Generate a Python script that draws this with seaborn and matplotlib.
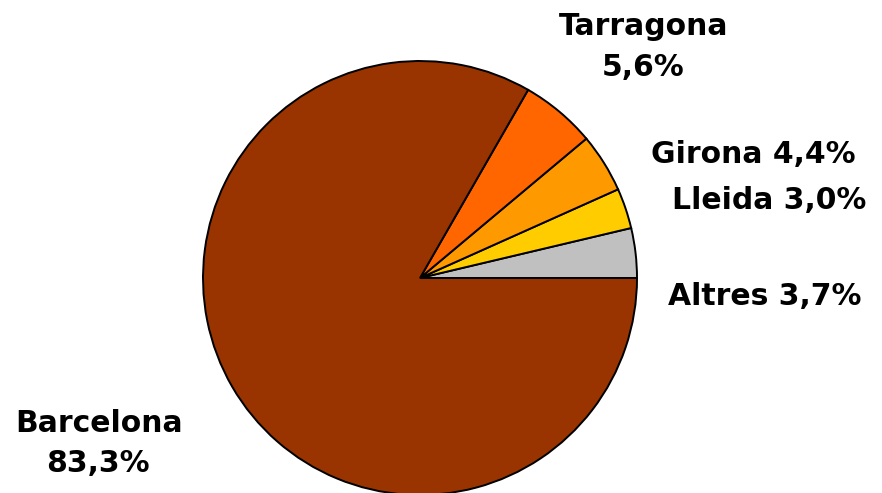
import matplotlib
matplotlib.use("Agg")
import matplotlib.pyplot as plt
import matplotlib.transforms as mtransforms
import seaborn as sns

# Share by province (%), drawn counter-clockwise from 3 o'clock
provinces = ['Altres', 'Lleida', 'Girona', 'Tarragona', 'Barcelona']
shares = [3.7, 3.0, 4.4, 5.6, 83.3]
colors = ['#C0C0C0', '#FFCC00', '#FF9900', '#FF6600', '#993300']

sns.set_theme(style="white")
plt.rcParams['font.family'] = ['DejaVu Sans']

W, H = 882, 493
fig = plt.figure(figsize=(W / 100, H / 100), dpi=100)
ax = fig.add_axes([0, 0, 1, 1])

# pie centre / radius in pixels
cx, cy, r = 420, 278, 217
ax.pie(shares, colors=colors, startangle=0, counterclock=True, radius=1,
       wedgeprops=dict(edgecolor='black', linewidth=1.4))
ax.set_xlim(-cx / r, (W - cx) / r)
ax.set_ylim(-(H - cy) / r, cy / r)
ax.set_aspect('auto')
ax.axis('off')

def fmt(v):
    return f"{v:.1f}%".replace('.', ',')

labels = {p: fmt(v) for p, v in zip(provinces, shares)}
pix = mtransforms.IdentityTransform()

def put(x, y, s):
    # x, y: pixel position (y from top), text baseline-centred
    ax.text(x, H - y, s, transform=pix, ha='center', va='baseline',
            fontsize=21.5, fontweight='bold', color='black')

put(644, 35, 'Tarragona')
put(643, 76, labels['Tarragona'])
put(753, 163, 'Girona ' + labels['Girona'])
put(769, 209, 'Lleida ' + labels['Lleida'])
put(765, 305, 'Altres ' + labels['Altres'])
put(99, 432, 'Barcelona')
put(98, 472, labels['Barcelona'])

fig.savefig('out.png', dpi=100)
